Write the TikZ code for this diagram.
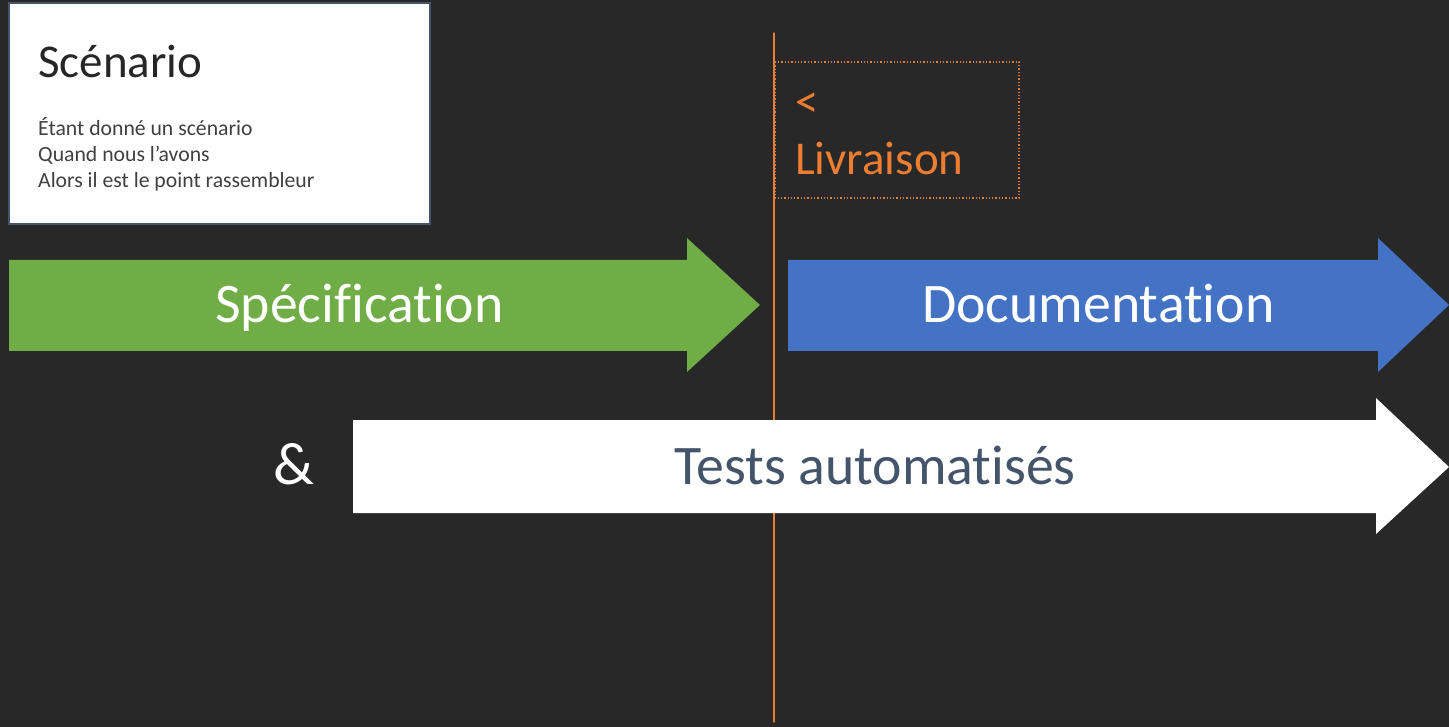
\documentclass[tikz,border=0pt]{standalone}
\usepackage{fontspec}
\setmainfont{Carlito}[RawFeature={-liga;-clig;-calt;-dlig}]
\usepackage{tkz-euclide}

\definecolor{fond}{RGB}{40,40,40}
\definecolor{vert}{RGB}{112,173,71}
\definecolor{bleu}{RGB}{68,114,196}
\definecolor{orange}{RGB}{237,125,49}
\definecolor{ardoise}{RGB}{68,84,106}
\definecolor{gristexte}{RGB}{64,64,64}

\tikzset{
  grand/.style={inner sep=0, anchor=base west, font=\fontsize{55.8}{66}\selectfont},
  moyen/.style={inner sep=0, anchor=base west, font=\fontsize{47}{56}\selectfont},
  petit/.style={inner sep=0, anchor=base west, font=\fontsize{21.7}{26}\selectfont, text=gristexte}
}

\begin{document}
\begin{tikzpicture}[x=1pt,y=-1pt]
    \fill[fond] (0,0) rectangle (1449,727);
    \useasboundingbox (0,0) rectangle (1449,727);
    % scenario box
    \draw[fill=white, draw=ardoise, line width=1.2pt] (9,3) rectangle (430,224);
    \node[moyen, text=black!85] (titre) at (38,78) {Scénario};
    \foreach \ligne [count=\i] in {Étant donné un scénario, Quand nous l’avons, Alors il est le point rassembleur}
        \node[petit] (l\i) at (38,110+26*\i) {\ligne};
    % livraison
    \tkzDefPoint(774,33){H}
    \tkzDefPoint(774,722){B}
    \tkzDrawSegment[color=orange, line width=1.3pt](H,B)
    \draw[orange, dotted, line width=1.3pt] (775,62) rectangle (1019,198);
    \node[moyen, text=orange] (inf) at (795,118) {<};
    \node[moyen, text=orange] (livr) at (795,175) {Livraison};
    % arrows
    \fill[vert] (9,260) -- (687,260) -- (687,238) -- (760,305)
        -- (687,372) -- (687,351) -- (9,351) -- cycle;
    \fill[bleu] (788,260) -- (1378,260) -- (1378,238) -- (1449,305)
        -- (1378,372) -- (1378,351) -- (788,351) -- cycle;
    \fill[white] (353,420) -- (1376,420) -- (1376,398) -- (1449,467)
        -- (1376,534) -- (1376,513) -- (353,513) -- cycle;
    \node[grand, text=white] (spec) at (215,323) {Spécification};
    \node[grand, text=white] (doc) at (922,323) {Documentation};
    \node[grand, text=ardoise] (tests) at (674,484) {Tests automatisés};
    \node[inner sep=0, anchor=base, text=white, font=\fontsize{60}{72}\selectfont] (et) at (294,484) {\&};
\end{tikzpicture}
\end{document}
